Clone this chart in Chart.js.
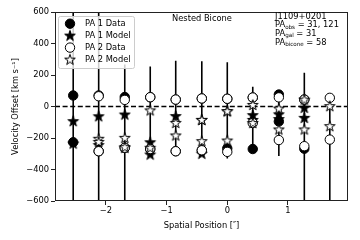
<!DOCTYPE html>
<html>
<head>
<meta charset="utf-8">
<script src="https://cdn.jsdelivr.net/npm/chart.js@4"></script>
<style>
  html, body { margin: 0; padding: 0; background: #fff; }
  #wrap { width: 360px; height: 240px; position: relative; }
</style>
</head>
<body>
<div id="wrap"><canvas id="grafico" width="360" height="240"></canvas></div>
<script>
// posições espaciais (arcsec), duas componentes por posição
const posicoes = [-2.54, -2.12, -1.69, -1.27, -0.85, -0.42, 0.0, 0.42, 0.85, 1.27, 1.69];
const pa1DadosA = [70, 70, 60, 59, 44, 51, 49, 57, 76, 44, null];
const pa1DadosB = [-227, -284, -262, -270, -284, -278, -266, -270, -95, -268, null];
const pa1ModeloA = [-93, -62, -51, -227, -61, -85, -30, -55, -50, -8, null];
const pa1ModeloB = [-235, -245, -262, -305, null, -300, null, -85, -80, -72, null];
const pa2DadosA = [null, 65, 42, 59, 44, 51, 49, 57, 58, 44, 55];
const pa2DadosB = [null, -284, -262, -270, -284, -278, -288, -105, -213, -252, -210];
const pa2ModeloA = [null, -205, -199, -25, -104, -85, -30, 10, -13, 44, 2];
const pa2ModeloB = [null, -225, -258, -262, -184, -220, -216, -105, -146, -146, -125];
const erroTopo = [600, 600, 267, 254, 290, 288, 281, 125, 76, 214, 55];
const erroBase = [-600, -600, -600, -317, -300, -305, -330, -285, -315, -600, -600];
const ticksX = [-2, -1, 0, 1];
const ticksY = [-600, -400, -200, 0, 200, 400, 600];
const limX = [-2.84, 1.99];

const FONTE = '"DejaVu Sans", sans-serif';

function criarEstrela(preenchida) {
    const c = document.createElement('canvas');
    c.width = 14; c.height = 14;
    const ctx = c.getContext('2d');
    const R = 5.6, r = R * 0.382, cx = 7, cy = 7.3;
    ctx.beginPath();
    for (let i = 0; i < 10; i++) {
        const ang = -Math.PI / 2 + i * Math.PI / 5;
        const raio = i % 2 === 0 ? R : r;
        ctx.lineTo(cx + raio * Math.cos(ang), cy + raio * Math.sin(ang));
    }
    ctx.closePath();
    ctx.fillStyle = preenchida ? '#000' : '#fff';
    ctx.fill();
    ctx.lineWidth = 1;
    ctx.lineJoin = 'miter';
    ctx.strokeStyle = '#000';
    ctx.stroke();
    return c;
}
const estrelaCheia = criarEstrela(true);
const estrelaVazia = criarEstrela(false);

function pontos(a, b) {
    const out = [];
    posicoes.forEach((x, i) => {
        if (a[i] !== null) out.push({ x: x, y: a[i] });
        if (b[i] !== null) out.push({ x: x, y: b[i] });
    });
    return out;
}

const barrasErro = [];
posicoes.forEach((x, i) => {
    barrasErro.push({ x: x, y: erroBase[i] }, { x: x, y: erroTopo[i] }, { x: x, y: NaN });
});

const series = [
    { label: 'PA 1 Data', dados: pontos(pa1DadosA, pa1DadosB), estilo: 'circle', fundo: '#000', ordem: 4 },
    { label: 'PA 1 Model', dados: pontos(pa1ModeloA, pa1ModeloB), estilo: estrelaCheia, fundo: '#000', ordem: 3 },
    { label: 'PA 2 Data', dados: pontos(pa2DadosA, pa2DadosB), estilo: 'circle', fundo: '#fff', ordem: 2 },
    { label: 'PA 2 Model', dados: pontos(pa2ModeloA, pa2ModeloB), estilo: estrelaVazia, fundo: '#fff', ordem: 1 }
];

const datasets = [
    {
        type: 'line', label: 'erro', data: barrasErro, borderColor: '#000', borderWidth: 1.6,
        pointRadius: 0, spanGaps: false, order: 6
    },
    {
        type: 'line', label: 'zero', data: [{ x: limX[0], y: 0 }, { x: limX[1], y: 0 }],
        borderColor: '#000', borderWidth: 1.4, borderDash: [5, 2.6], pointRadius: 0, order: 5
    }
].concat(series.map(s => ({
    type: 'scatter', label: s.label, data: s.dados, pointStyle: s.estilo,
    pointRadius: 4.7, pointBackgroundColor: s.fundo, pointBorderColor: '#000',
    pointBorderWidth: 1, order: s.ordem
})));

function textoSub(ctx, x, y, partes) {
    // partes: [[texto, sub?], ...]
    let cx = x;
    partes.forEach(([t, sub]) => {
        ctx.font = (sub ? '5.6px ' : '8.3px ') + FONTE;
        ctx.fillText(t, cx, sub ? y + 2.2 : y);
        cx += ctx.measureText(t).width;
    });
}

const pluginExtras = {
    id: 'extras',
    afterDatasetsDraw(chart) {
        const { ctx, chartArea: a } = chart;
        ctx.save();
        ctx.strokeStyle = '#222';
        ctx.lineWidth = 1;
        ctx.strokeRect(Math.round(a.left) + 0.5, Math.round(a.top) + 0.5,
            Math.round(a.right - a.left) - 1, Math.round(a.bottom - a.top) - 1);
        ctx.restore();
    },
    afterDraw(chart) {
        const { ctx } = chart;
        ctx.save();
        // legenda
        const bx = 58, by = 16, bw = 76, bh = 52;
        ctx.beginPath();
        ctx.roundRect(bx + 0.5, by + 0.5, bw, bh, 2);
        ctx.fillStyle = 'rgba(255,255,255,0.8)';
        ctx.fill();
        ctx.strokeStyle = '#ccc';
        ctx.lineWidth = 1;
        ctx.stroke();
        const linhas = [23.7, 35.6, 47.6, 59.6];
        series.forEach((s, i) => {
            const y = linhas[i];
            if (s.estilo === 'circle') {
                ctx.beginPath();
                ctx.arc(70, y, 4.7, 0, Math.PI * 2);
                ctx.fillStyle = s.fundo;
                ctx.fill();
                ctx.strokeStyle = '#000';
                ctx.stroke();
            } else {
                ctx.drawImage(s.estilo, 70 - 7, y - 7);
            }
            ctx.fillStyle = '#000';
            ctx.font = '8.3px ' + FONTE;
            ctx.textBaseline = 'middle';
            ctx.fillText(s.label, 85, y);
        });
        // anotações
        ctx.fillStyle = '#000';
        ctx.textBaseline = 'middle';
        ctx.font = '8.3px ' + FONTE;
        ctx.fillText('Nested Bicone', 172, 19);
        textoSub(ctx, 275, 17.3, [['J1109+0201', false]]);
        textoSub(ctx, 275, 25, [['PA', false], ['obs', true], [' = 31, 121', false]]);
        textoSub(ctx, 275, 33.6, [['PA', false], ['gal', true], [' = 31', false]]);
        textoSub(ctx, 275, 42.4, [['PA', false], ['bicone', true], [' = 58', false]]);
        ctx.restore();
    }
};

const menos = v => String(v).replace('-', '\u2212');

new Chart(document.getElementById('grafico').getContext('2d'), {
    data: { datasets: datasets },
    options: {
        responsive: false,
        animation: false,
        layout: { padding: { top: 12, right: 12, left: 0, bottom: 0 } },
        plugins: { legend: { display: false }, tooltip: { enabled: false } },
        scales: {
            x: {
                type: 'linear', min: limX[0], max: limX[1],
                afterBuildTicks: s => { s.ticks = ticksX.map(v => ({ value: v })); },
                afterFit: s => { s.height = 39; },
                grid: { drawOnChartArea: false, drawTicks: true, tickLength: 4, color: '#222' },
                border: { display: false },
                ticks: { color: '#000', font: { family: FONTE, size: 8.3 }, padding: 1, maxRotation: 0, callback: menos },
                title: { display: true, text: 'Spatial Position [\u2033]', color: '#000', font: { family: FONTE, size: 8.3 }, padding: { top: 0, bottom: 9 } }
            },
            y: {
                type: 'linear', min: -600, max: 600,
                afterBuildTicks: s => { s.ticks = ticksY.map(v => ({ value: v })); },
                afterFit: s => { s.width = 55; },
                grid: { drawOnChartArea: false, drawTicks: true, tickLength: 4, color: '#222' },
                border: { display: false },
                ticks: { color: '#000', font: { family: FONTE, size: 8.3 }, padding: 2, callback: menos },
                title: { display: true, text: 'Velocity Offset [km s\u207B\u00B9]', color: '#000', font: { family: FONTE, size: 8.3 }, padding: { top: 11, bottom: 0 } }
            }
        }
    },
    plugins: [pluginExtras]
});
</script>
</body>
</html>
